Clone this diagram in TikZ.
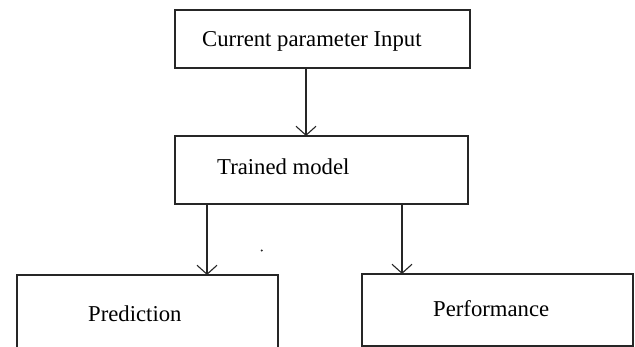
\documentclass[tikz,border=0pt]{standalone}
\usepackage{fontspec}
\setmainfont{Liberation Serif}
\usetikzlibrary{arrows.meta}
\begin{document}
\begin{tikzpicture}[x=1pt,y=-1pt,
  box/.style={draw=black!85,line width=1.3pt,fill=white,inner sep=0pt,outer sep=0pt},
  lbl/.style={anchor=base west,inner sep=0pt,font=\fontsize{22.7}{26}\selectfont},
  link/.style={draw=black!85,line width=1.2pt,-{Straight Barb[length=9pt,width=20pt,line width=1.1pt]}}]
\useasboundingbox (0,0) rectangle (635,347);
% boxes
\node[box,minimum width=295pt,minimum height=58pt] (input) at (322.5,39) {};
\node[box,minimum width=293pt,minimum height=68pt] (model) at (321.5,170) {};
\node[box,minimum width=261pt,minimum height=80pt] (pred) at (147.5,315) {};
\node[box,minimum width=271pt,minimum height=72pt] (perf) at (497.5,310) {};
% labels
\node[lbl] (tinput) at (202,47) {Current parameter Input};
\node[lbl] (tmodel) at (217,175) {Trained model};
\node[lbl] (tpred) at (88,322) {Prediction};
\node[lbl] (tperf) at (433,317) {Performance};
% connectors
\draw[link] (input.south -| 306,0) -- (model.north -| 306,0);
\draw[link] (model.south -| 207,0) -- (pred.north -| 207,0);
\draw[link] (model.south -| 402,0) -- (perf.north -| 402,0);
% stray dot
\fill[black!85] (261.7,250.5) circle (1.1pt);
\end{tikzpicture}
\end{document}
